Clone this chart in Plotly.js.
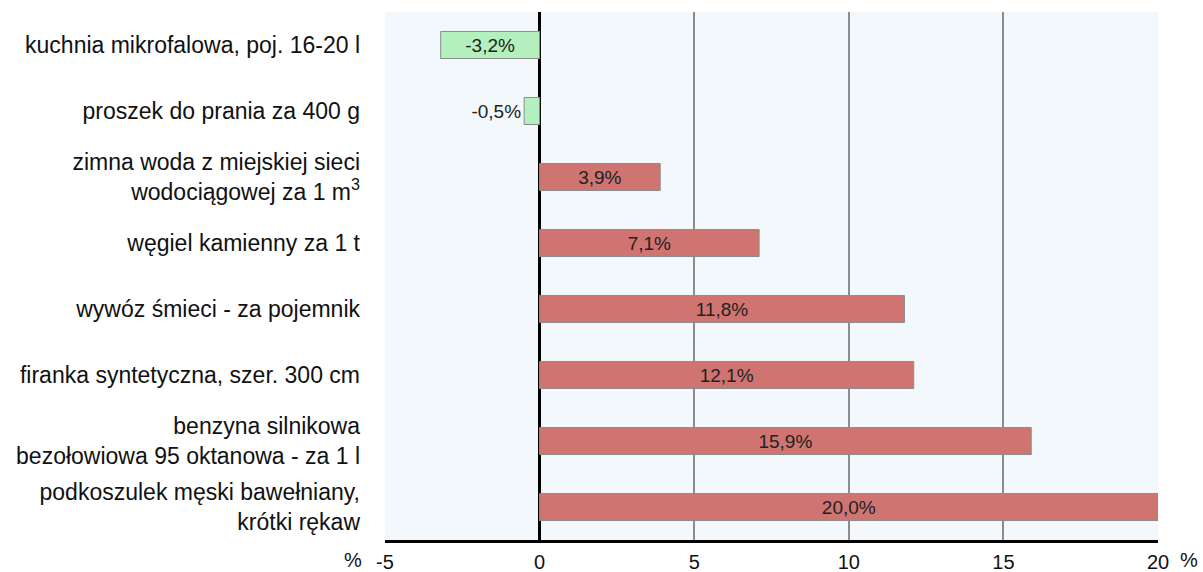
<!DOCTYPE html>
<html>
<head>
<meta charset="utf-8">
<script src="https://cdn.plot.ly/plotly-3.0.1.min.js"></script>
<style>body{margin:0;padding:0;background:#fff;}#chart{width:1203px;height:572px;}</style>
</head>
<body>
<div id="chart"></div>
<script>
const categories = [
  "kuchnia mikrofalowa, poj. 16-20 l",
  "proszek do prania za 400 g",
  "zimna woda z miejskiej sieci<br>wodociągowej za 1 m<sup>3</sup>",
  "węgiel kamienny za 1 t",
  "wywóz śmieci - za pojemnik",
  "firanka syntetyczna, szer. 300 cm",
  "benzyna silnikowa<br>bezołowiowa 95 oktanowa - za 1 l",
  "podkoszulek męski bawełniany,<br>krótki rękaw"
];
const values = [-3.2, -0.5, 3.9, 7.1, 11.8, 12.1, 15.9, 20.0];
const xTicks = [-5, 0, 5, 10, 15, 20];

const labels = values.map(v => v.toFixed(1).replace('.', ',') + '%');
const colors = values.map(v => v < 0 ? '#b4f0bd' : '#cf7470');
const positions = values.map(v => Math.abs(v) < 1 ? 'outside' : 'inside');

const FONT = 'Liberation Sans, Arial, sans-serif';

const trace = {
  type: 'bar',
  orientation: 'h',
  x: values,
  y: categories,
  text: labels,
  textposition: positions,
  insidetextanchor: 'middle',
  constraintext: 'none',
  cliponaxis: false,
  textfont: {family: FONT, size: 19, color: '#222'},
  marker: {color: colors, line: {color: '#8c8c8c', width: 1}},
  width: 0.41,
  hoverinfo: 'none'
};

const layout = {
  width: 1203,
  height: 572,
  margin: {l: 385, r: 45, t: 12, b: 32},
  paper_bgcolor: '#ffffff',
  plot_bgcolor: '#f3f8fc',
  showlegend: false,
  font: {family: FONT, size: 23, color: '#111'},
  xaxis: {
    range: [-5, 20],
    tickvals: xTicks,
    ticktext: xTicks.map(String),
    showgrid: true,
    gridcolor: '#8c8c8c',
    gridwidth: 2,
    zeroline: true,
    zerolinecolor: '#000',
    zerolinewidth: 3,
    showline: true,
    linecolor: '#000',
    linewidth: 3,
    ticks: '',
    ticklabelstandoff: 2,
    tickfont: {family: FONT, size: 20, color: '#111'},
    fixedrange: true
  },
  yaxis: {
    autorange: 'reversed',
    showgrid: false,
    zeroline: false,
    showline: false,
    ticks: '',
    ticklabelstandoff: 24,
    tickfont: {family: FONT, size: 23, color: '#111'},
    fixedrange: true
  },
  annotations: [
    {xref: 'paper', yref: 'paper', x: -0.042, y: 0, yshift: -32, text: '%', showarrow: false, xanchor: 'center', yanchor: 'bottom', borderpad: 0, font: {family: FONT, size: 20, color: '#111'}},
    {xref: 'paper', yref: 'paper', x: 1.04, y: 0, yshift: -32, text: '%', showarrow: false, xanchor: 'center', yanchor: 'bottom', borderpad: 0, font: {family: FONT, size: 20, color: '#111'}}
  ]
};

Plotly.newPlot('chart', [trace], layout, {displayModeBar: false, staticPlot: true});
</script>
</body>
</html>
